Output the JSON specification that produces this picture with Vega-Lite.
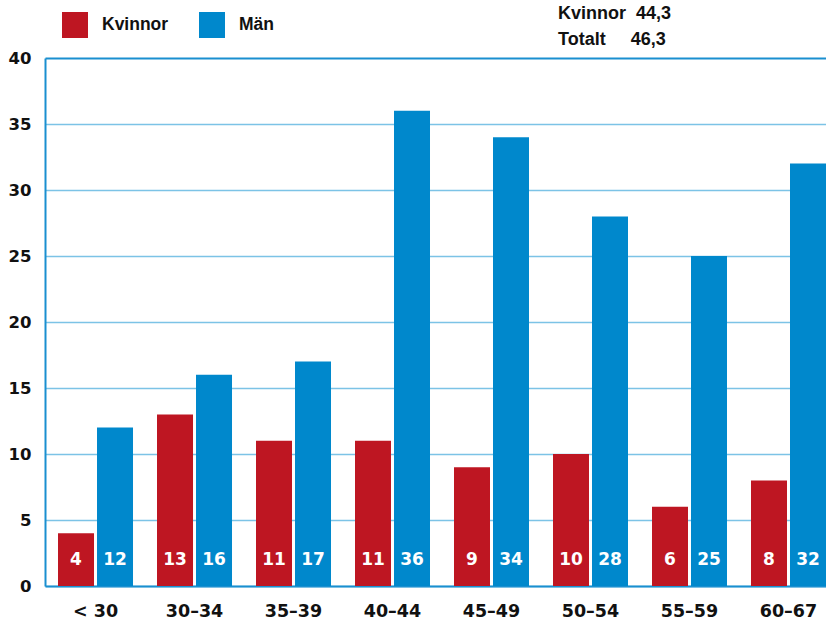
{
  "$schema": "https://vega.github.io/schema/vega-lite/v6.json",
  "width": 781,
  "height": 528,
  "autosize": "none",
  "padding": {"left": 45, "top": 58, "right": 0, "bottom": 35},
  "background": "white",
  "title": {
    "text": ["Kvinnor\u00a0\u00a044,3", "Totalt\u00a0\u00a0\u00a0\u00a0\u00a046,3"],
    "anchor": "start",
    "frame": "group",
    "orient": "top",
    "dx": 513,
    "offset": -37,
    "fontSize": 18,
    "fontWeight": "bold",
    "font": "Liberation Sans",
    "lineHeight": 26,
    "color": "#111111"
  },
  "data": {
    "values": [
      {"grupp": "< 30", "kon": "Kvinnor", "andel": 4},
      {"grupp": "< 30", "kon": "Män", "andel": 12},
      {"grupp": "30–34", "kon": "Kvinnor", "andel": 13},
      {"grupp": "30–34", "kon": "Män", "andel": 16},
      {"grupp": "35–39", "kon": "Kvinnor", "andel": 11},
      {"grupp": "35–39", "kon": "Män", "andel": 17},
      {"grupp": "40–44", "kon": "Kvinnor", "andel": 11},
      {"grupp": "40–44", "kon": "Män", "andel": 36},
      {"grupp": "45–49", "kon": "Kvinnor", "andel": 9},
      {"grupp": "45–49", "kon": "Män", "andel": 34},
      {"grupp": "50–54", "kon": "Kvinnor", "andel": 10},
      {"grupp": "50–54", "kon": "Män", "andel": 28},
      {"grupp": "55–59", "kon": "Kvinnor", "andel": 6},
      {"grupp": "55–59", "kon": "Män", "andel": 25},
      {"grupp": "60–67", "kon": "Kvinnor", "andel": 8},
      {"grupp": "60–67", "kon": "Män", "andel": 32}
    ]
  },
  "encoding": {
    "x": {
      "field": "grupp",
      "type": "nominal",
      "sort": null,
      "scale": {"paddingInner": 0.2424, "paddingOuter": 0.0657, "align": 1},
      "axis": {
        "title": null,
        "labelAngle": 0,
        "ticks": false,
        "labelPadding": 16,
        "labelFontSize": 17.5,
        "labelFontWeight": "bold",
        "labelFont": "DejaVu Sans",
        "labelColor": "#111111",
        "domainColor": "#1a8fd0",
        "domainWidth": 2
      }
    },
    "xOffset": {
      "field": "kon",
      "type": "nominal",
      "sort": ["Kvinnor", "Män"],
      "scale": {"paddingInner": 0.0769, "paddingOuter": 0}
    }
  },
  "layer": [
    {
      "mark": {"type": "bar", "stroke": null},
      "encoding": {
        "y": {
          "field": "andel",
          "type": "quantitative",
          "scale": {"domain": [0, 40], "nice": false},
          "axis": {
            "title": null,
            "values": [0, 5, 10, 15, 20, 25, 30, 35, 40],
            "ticks": false,
            "labelPadding": 14,
            "labelFontSize": 16.5,
            "labelFontWeight": "bold",
            "labelFont": "DejaVu Sans",
            "labelColor": "#111111",
            "domainColor": "#1a8fd0",
            "domainWidth": 2,
            "grid": true,
            "gridColor": {"condition": {"test": "datum.value === 40", "value": "#1a8fd0"}, "value": "#7cc3e6"},
            "gridWidth": {"condition": {"test": "datum.value === 40", "value": 2}, "value": 1.5}
          }
        },
        "color": {
          "field": "kon",
          "type": "nominal",
          "sort": ["Kvinnor", "Män"],
          "scale": {"domain": ["Kvinnor", "Män"], "range": ["#be1622", "#0088cc"]},
          "legend": {
            "title": null,
            "orient": "none",
            "direction": "horizontal",
            "legendX": 17,
            "legendY": -46,
            "padding": 0,
            "symbolType": "square",
            "symbolSize": 676,
            "symbolStrokeWidth": 0,
            "symbolOpacity": 1,
            "labelFontSize": 17.5,
            "labelFontWeight": "bold",
            "labelFont": "Liberation Sans",
            "labelColor": "#111111",
            "labelOffset": 14,
            "columnPadding": 30
          }
        }
      }
    },
    {
      "mark": {
        "type": "text",
        "color": "white",
        "fontSize": 17,
        "fontWeight": "bold",
        "font": "DejaVu Sans",
        "baseline": "middle"
      },
      "encoding": {
        "y": {"datum": 2, "type": "quantitative"},
        "text": {"field": "andel", "type": "quantitative"}
      }
    }
  ],
  "config": {
    "view": {"stroke": null}
  }
}
